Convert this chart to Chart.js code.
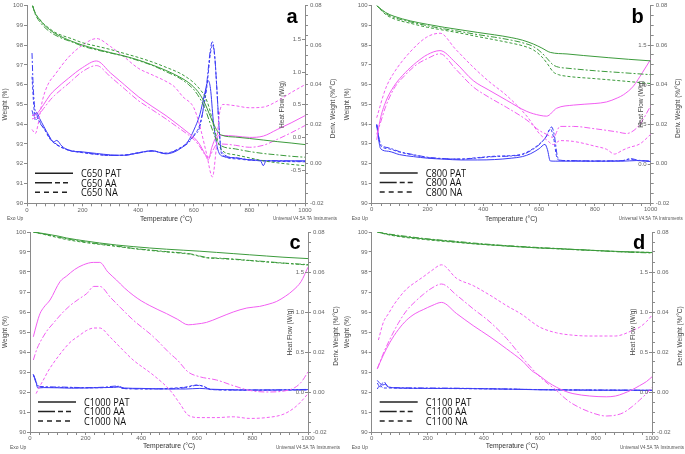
<!DOCTYPE html>
<html>
<head>
<meta charset="utf-8">
<script src="https://cdn.jsdelivr.net/npm/chart.js@4.4.1/dist/chart.umd.min.js"></script>
<style>
html, body { margin: 0; padding: 0; background: #fff; }
#wrap { position: relative; width: 685px; height: 454px; overflow: hidden; }
canvas { position: absolute; }
</style>
</head>
<body>
<div id="wrap">
  <canvas id="chA" width="342" height="225" style="left:0px;top:0px"></canvas>
  <canvas id="chB" width="343" height="225" style="left:342px;top:0px"></canvas>
  <canvas id="chC" width="342" height="229" style="left:0px;top:225px"></canvas>
  <canvas id="chD" width="343" height="229" style="left:342px;top:225px"></canvas>
</div>
<script>
// ---- data: [temperature °C, value] ----
const samples = ['PAT', 'AA', 'NA'];
const panelNames = ['C650', 'C800', 'C1000', 'C1100'];
const panelLetters = ['a', 'b', 'c', 'd'];
const heatFlowMin = [-1, -0.5, -0.5, -0.5];
const heatFlowLabels = [[-0.5, 0, 0.5, 1.0, 1.5], [0, 0.5, 1.0, 1.5], [0, 0.5, 1.0, 1.5], [0, 0.5, 1.0, 1.5]];

// C650 weight (%)
const aWtPAT = [[20,100],[30,99.6],[45,99.3],[60,99.05],[80,98.8],[100,98.6],[130,98.38],[160,98.2],[200,98.0],[250,97.8],[300,97.62],[350,97.45],[400,97.25],[450,97.0],[500,96.72],[550,96.38],[580,96.12],[600,95.88],[620,95.55],[640,95.05],[655,94.55],[670,94.05],[685,93.65],[700,93.45],[750,93.35],[800,93.28],[850,93.2],[900,93.12],[950,93.05],[1000,92.97]];
const aWtAA = [[20,100],[30,99.55],[45,99.2],[60,98.95],[80,98.7],[100,98.52],[130,98.32],[160,98.17],[200,97.95],[250,97.76],[300,97.6],[350,97.44],[400,97.22],[450,96.98],[500,96.66],[550,96.32],[580,96.02],[600,95.75],[620,95.35],[640,94.8],[655,94.2],[670,93.6],[685,93.1],[700,92.9],[750,92.75],[800,92.62],[850,92.52],[900,92.45],[950,92.38],[1000,92.33]];
const aWtNA = [[20,100],[30,99.62],[45,99.32],[60,99.08],[80,98.85],[100,98.65],[130,98.47],[160,98.33],[200,98.12],[250,97.95],[300,97.78],[350,97.58],[400,97.38],[450,97.15],[500,96.88],[550,96.58],[580,96.32],[600,96.1],[620,95.8],[640,95.4],[655,94.85],[670,94.0],[685,93.2],[700,92.7],[750,92.45],[800,92.3],[850,92.15],[900,92.05],[950,91.97],[1000,91.9]];
// C650 heat flow (W/g)
const aHfPAT = [[18,0.33],[35,0.36],[60,0.5],[84,0.65],[100,0.72],[150,0.9],[200,1.06],[250,1.16],[300,0.98],[350,0.8],[400,0.62],[450,0.47],[500,0.33],[550,0.17],[580,0.07],[600,0.0],[620,-0.1],[640,-0.25],[652,-0.34],[665,-0.15],[680,0.0],[700,0.03],[750,0.02],[800,0.0],[850,0.02],[900,0.12],[950,0.22],[1000,0.33]];
const aHfAA = [[18,0.28],[35,0.31],[60,0.44],[84,0.57],[100,0.64],[150,0.82],[200,1.0],[250,1.09],[300,0.92],[350,0.74],[400,0.56],[450,0.42],[500,0.28],[550,0.13],[580,0.04],[600,-0.03],[620,-0.13],[640,-0.26],[655,-0.3],[668,-0.2],[685,-0.1],[700,-0.1],[750,-0.12],[800,-0.15],[850,-0.12],[900,-0.03],[950,0.07],[1000,0.18]];
const aHfNA = [[18,0.12],[30,0.06],[40,0.2],[55,0.55],[75,0.8],[100,0.95],[150,1.22],[200,1.4],[250,1.5],[300,1.38],[350,1.22],[400,1.05],[450,0.95],[500,0.85],[530,0.77],[560,0.62],[600,0.45],[620,0.2],[646,-0.25],[667,-0.6],[680,-0.2],[692,0.35],[705,0.5],[750,0.48],[800,0.45],[850,0.46],[900,0.55],[950,0.68],[1000,0.8]];
// C650 deriv. weight (%/°C)
const aDwPAT = [[18,0.027],[25,0.024],[35,0.026],[45,0.023],[60,0.019],[80,0.014],[95,0.011],[107,0.0118],[125,0.009],[150,0.0068],[200,0.006],[250,0.0052],[300,0.0045],[350,0.0043],[400,0.0055],[450,0.0066],[500,0.005],[550,0.0075],[580,0.0115],[600,0.017],[622,0.025],[640,0.036],[652,0.042],[660,0.038],[670,0.022],[685,0.008],[700,0.004],[750,0.003],[800,0.002],[840,0.0015],[850,-0.001],[860,0.0015],[900,0.0015],[950,0.0015],[1000,0.0015]];
const aDwAA = [[18,0.056],[22,0.04],[28,0.028],[35,0.025],[45,0.021],[60,0.018],[80,0.0135],[100,0.0105],[150,0.007],[200,0.0058],[250,0.0048],[300,0.0042],[350,0.0043],[400,0.0054],[450,0.0064],[500,0.0052],[550,0.0078],[580,0.0105],[600,0.014],[622,0.019],[646,0.04],[660,0.058],[667,0.0617],[675,0.055],[682,0.04],[692,0.016],[700,0.006],[750,0.003],[800,0.002],[900,0.0015],[1000,0.0012]];
const aDwNA = [[18,0.044],[24,0.03],[30,0.022],[40,0.023],[50,0.02],[65,0.017],[80,0.013],[100,0.0102],[150,0.0068],[200,0.0056],[250,0.0047],[300,0.0042],[350,0.0044],[400,0.0056],[450,0.0065],[500,0.0054],[550,0.008],[580,0.011],[600,0.0145],[622,0.02],[646,0.038],[660,0.056],[668,0.06],[676,0.053],[683,0.038],[693,0.014],[700,0.005],[750,0.0025],[800,0.0018],[900,0.0012],[1000,0.001]];

// C800
const bWtPAT = [[18,100],[50,99.65],[80,99.46],[140,99.22],[200,99.05],[260,98.9],[320,98.77],[380,98.64],[440,98.52],[500,98.38],[540,98.25],[580,98.05],[610,97.85],[640,97.63],[700,97.55],[760,97.47],[850,97.36],[920,97.28],[1000,97.2]];
const bWtAA = [[18,100],[50,99.6],[80,99.4],[140,99.17],[200,98.98],[260,98.82],[320,98.68],[380,98.53],[440,98.4],[500,98.25],[540,98.12],[580,97.92],[610,97.6],[630,97.3],[650,97.0],[670,96.88],[700,96.83],[800,96.7],[900,96.6],[1000,96.5]];
const bWtNA = [[18,100],[50,99.55],[80,99.33],[140,99.1],[200,98.9],[260,98.75],[320,98.6],[380,98.43],[440,98.27],[500,98.1],[540,97.97],[580,97.75],[610,97.4],[630,97.05],[650,96.65],[670,96.5],[700,96.42],[800,96.3],[900,96.18],[1000,96.05]];
const bHfPAT = [[18,0.3],[30,0.55],[50,0.78],[80,0.98],[120,1.15],[160,1.28],[200,1.38],[245,1.43],[300,1.28],[364,1.05],[420,0.93],[484,0.8],[556,0.66],[603,0.61],[627,0.6],[663,0.7],[723,0.74],[800,0.76],[842,0.78],[880,0.83],[902,0.87],[938,0.98],[970,1.15],[1000,1.32]];
const bHfAA = [[18,0.37],[30,0.5],[50,0.72],[80,0.95],[120,1.12],[160,1.25],[200,1.33],[245,1.39],[300,1.2],[364,0.97],[420,0.84],[484,0.71],[556,0.55],[600,0.42],[627,0.37],[651,0.33],[675,0.47],[723,0.47],[800,0.44],[842,0.42],[880,0.4],[914,0.38],[940,0.42],[962,0.5],[1000,0.73]];
const bHfNA = [[18,0.58],[50,0.95],[78,1.14],[137,1.41],[197,1.6],[245,1.65],[300,1.45],[364,1.22],[420,1.04],[484,0.86],[556,0.6],[603,0.37],[627,0.3],[651,0.24],[675,0.29],[723,0.28],[800,0.22],[842,0.18],[870,0.12],[900,0.17],[920,0.2],[962,0.25],[1000,0.37]];
const bDwPAT = [[18,0.0197],[25,0.012],[32,0.0075],[60,0.0062],[100,0.0045],[150,0.0035],[200,0.0027],[260,0.0022],[320,0.0018],[380,0.0018],[440,0.002],[500,0.0027],[540,0.0035],[570,0.005],[600,0.0075],[621,0.0097],[630,0.007],[640,0.0013],[660,0.0012],[700,0.0012],[800,0.0012],[900,0.0012],[950,0.0015],[1000,0.001]];
const bDwAA = [[18,0.0197],[25,0.014],[32,0.0098],[60,0.008],[100,0.006],[150,0.0045],[200,0.0032],[260,0.0025],[320,0.0022],[380,0.0028],[440,0.0035],[500,0.0038],[540,0.0045],[570,0.0065],[600,0.0095],[625,0.0135],[645,0.0185],[655,0.014],[665,0.004],[675,0.0017],[700,0.0015],[800,0.0013],[900,0.0015],[930,0.0025],[950,0.0018],[1000,0.0012]];
const bDwNA = [[18,0.0197],[25,0.013],[32,0.009],[60,0.0075],[100,0.0058],[150,0.0043],[200,0.003],[260,0.0024],[320,0.0023],[380,0.003],[440,0.0037],[500,0.004],[540,0.0048],[570,0.0068],[600,0.0098],[625,0.0135],[640,0.0175],[652,0.013],[662,0.004],[672,0.0016],[700,0.0014],[800,0.0012],[900,0.0014],[920,0.0022],[950,0.0016],[1000,0.0011]];

// C1000
const cWtPAT = [[12,100],[50,99.92],[100,99.8],[132,99.7],[200,99.55],[251,99.45],[311,99.35],[371,99.27],[431,99.2],[491,99.14],[551,99.09],[611,99.04],[671,98.98],[731,98.92],[790,98.86],[850,98.8],[910,98.74],[1000,98.67]];
const cWtAA = [[12,100],[50,99.9],[100,99.75],[132,99.66],[200,99.5],[251,99.4],[311,99.3],[371,99.18],[431,99.1],[491,99.02],[551,98.95],[580,98.9],[611,98.8],[640,98.72],[671,98.7],[731,98.65],[790,98.58],[850,98.52],[910,98.45],[1000,98.37]];
const cWtNA = [[12,100],[50,99.88],[100,99.72],[132,99.62],[200,99.47],[251,99.38],[311,99.28],[371,99.17],[431,99.08],[491,99.0],[551,98.93],[580,98.88],[611,98.78],[640,98.7],[671,98.68],[731,98.63],[790,98.57],[850,98.5],[910,98.44],[1000,98.35]];
const cHfPAT = [[12,0.69],[24,0.85],[36,0.98],[50,1.06],[72,1.15],[108,1.38],[132,1.45],[160,1.53],[192,1.59],[228,1.62],[251,1.62],[280,1.5],[311,1.4],[340,1.3],[371,1.21],[400,1.14],[431,1.08],[460,1.03],[491,0.98],[530,0.91],[569,0.84],[600,0.85],[635,0.87],[680,0.93],[731,1.0],[780,1.05],[826,1.07],[860,1.1],[886,1.13],[920,1.2],[946,1.27],[975,1.38],[1000,1.56]];
const cHfAA = [[12,0.4],[24,0.53],[36,0.62],[60,0.76],[84,0.86],[114,0.98],[144,1.08],[175,1.16],[204,1.23],[230,1.32],[251,1.32],[290,1.18],[324,1.06],[371,0.9],[444,0.69],[504,0.48],[530,0.4],[569,0.25],[611,0.19],[671,0.15],[731,0.08],[790,0.02],[850,0.0],[910,0.01],[950,0.05],[975,0.12],[1000,0.25]];
const cHfNA = [[22,-0.02],[35,0.07],[48,0.15],[65,0.26],[84,0.36],[114,0.5],[144,0.62],[175,0.7],[204,0.77],[230,0.8],[251,0.8],[290,0.68],[324,0.56],[371,0.4],[444,0.21],[504,0.02],[540,-0.15],[569,-0.29],[611,-0.32],[671,-0.32],[731,-0.31],[790,-0.33],[850,-0.32],[910,-0.28],[950,-0.2],[975,-0.12],[1000,-0.02]];
const cDwPAT = [[12,0.0087],[20,0.006],[28,0.002],[50,0.0022],[100,0.0021],[150,0.0019],[200,0.002],[263,0.0022],[300,0.0023],[320,0.0025],[340,0.002],[400,0.0018],[500,0.0015],[560,0.0015],[611,0.0018],[650,0.0014],[700,0.0012],[800,0.001],[900,0.001],[1000,0.0012]];
const cDwAA = [[12,0.0087],[25,0.004],[35,0.0028],[100,0.0025],[200,0.0022],[263,0.0024],[315,0.003],[330,0.0018],[400,0.0016],[500,0.0016],[560,0.0022],[600,0.0033],[620,0.003],[650,0.0013],[700,0.0011],[800,0.001],[900,0.0011],[1000,0.0013]];
const cDwNA = [[12,0.0087],[25,0.0035],[35,0.0025],[100,0.0023],[200,0.0021],[300,0.0024],[320,0.0028],[340,0.0017],[450,0.0015],[500,0.0018],[560,0.0025],[600,0.0035],[625,0.0028],[650,0.0012],[800,0.0009],[1000,0.001]];

// C1100
const dWtPAT = [[20,100],[60,99.88],[125,99.75],[184,99.66],[243,99.58],[303,99.5],[362,99.42],[422,99.36],[481,99.3],[540,99.25],[600,99.2],[659,99.17],[718,99.13],[778,99.09],[837,99.05],[897,99.02],[1000,98.97]];
const dWtAA = [[20,100],[60,99.9],[125,99.78],[184,99.68],[243,99.6],[303,99.53],[362,99.45],[422,99.38],[481,99.32],[540,99.27],[600,99.22],[659,99.18],[718,99.13],[778,99.09],[837,99.04],[897,99.0],[1000,98.95]];
const dWtNA = [[20,100],[60,99.86],[125,99.72],[184,99.63],[243,99.55],[303,99.48],[362,99.41],[422,99.35],[481,99.3],[540,99.25],[600,99.2],[659,99.16],[718,99.12],[778,99.08],[837,99.05],[897,99.01],[1000,98.98]];
const dHfPAT = [[20,0.29],[40,0.45],[65,0.62],[95,0.78],[125,0.9],[155,0.98],[184,1.03],[215,1.08],[249,1.12],[303,0.98],[362,0.83],[422,0.69],[481,0.54],[540,0.38],[570,0.27],[600,0.2],[630,0.12],[659,0.06],[690,0.01],[718,-0.02],[778,-0.05],[837,-0.06],[870,-0.05],[897,-0.02],[930,0.03],[956,0.08],[980,0.13],[1000,0.19]];
const dHfAA = [[20,0.29],[40,0.47],[65,0.66],[95,0.86],[125,1.02],[155,1.13],[184,1.22],[215,1.3],[249,1.35],[303,1.21],[362,1.04],[422,0.875],[481,0.67],[540,0.42],[570,0.3],[600,0.19],[630,0.1],[659,0.02],[690,-0.08],[718,-0.15],[778,-0.25],[837,-0.3],[870,-0.29],[897,-0.26],[930,-0.18],[956,-0.1],[980,-0.02],[1000,0.06]];
const dHfNA = [[24,0.65],[42,0.875],[60,0.98],[77,1.08],[100,1.19],[125,1.29],[155,1.37],[184,1.44],[215,1.52],[249,1.59],[303,1.42],[362,1.33],[422,1.21],[481,1.08],[540,0.96],[570,0.88],[600,0.81],[659,0.74],[718,0.71],[778,0.7],[837,0.7],[870,0.7],[897,0.72],[930,0.77],[956,0.81],[980,0.88],[1000,0.96]];
const dDwPAT = [[20,0.0058],[30,0.0042],[40,0.0035],[50,0.004],[60,0.0025],[100,0.002],[200,0.0018],[300,0.0018],[400,0.0016],[500,0.0014],[600,0.0011],[700,0.001],[800,0.0009],[900,0.0009],[1000,0.0008]];
const dDwAA = [[20,0.0045],[30,0.0025],[40,0.0048],[45,0.005],[55,0.0028],[80,0.0022],[200,0.002],[400,0.0017],[600,0.0012],[800,0.001],[1000,0.0009]];
const dDwNA = [[20,0.0015],[30,0.0035],[40,0.002],[60,0.002],[100,0.0019],[300,0.0017],[500,0.0014],[700,0.001],[1000,0.0008]];

const weightSets = [[aWtPAT, aWtAA, aWtNA], [bWtPAT, bWtAA, bWtNA], [cWtPAT, cWtAA, cWtNA], [dWtPAT, dWtAA, dWtNA]];
const heatSets = [[aHfPAT, aHfAA, aHfNA], [bHfPAT, bHfAA, bHfNA], [cHfPAT, cHfAA, cHfNA], [dHfPAT, dHfAA, dHfNA]];
const derivSets = [[aDwPAT, aDwAA, aDwNA], [bDwPAT, bDwAA, bDwNA], [cDwPAT, cDwAA, cDwNA], [dDwPAT, dDwAA, dDwNA]];

// ---- styling / layout ----
const GREEN = '#3c9b3c', PINK = '#f25ef2', BLUE = '#3c3cf6';
const AXIS = '#8a8a8a', LABEL = '#666';
const DASH = { PAT: [], AA: [6, 2, 2, 2], NA: [3, 2] };
const FONT = '"Liberation Sans", Arial, sans-serif';

// canvas id, plot left, plot right, top padding, x-axis height, hf title offset
const layouts = [
  { id: 'chA', left: 27, right: 305, top: 3, xh: 21.7, hfOff: 23, titlePad: 2 },
  { id: 'chB', left: 29.7, right: 308.7, top: 3, xh: 22, hfOff: 9, titlePad: 2 },
  { id: 'chC', left: 30, right: 308, top: 7, xh: 22, hfOff: 18, titlePad: 3.5 },
  { id: 'chD', left: 29.7, right: 310, top: 7, xh: 22, hfOff: 19, titlePad: 3.5 }
];

function pts(arr) { return arr.map(p => ({ x: p[0], y: p[1] })); }

function isMultiple(v, step) {
  const r = v / step;
  return Math.abs(r - Math.round(r)) < 1e-6;
}

function buildPanel(i) {
  const lay = layouts[i];
  const canvas = document.getElementById(lay.id);
  const W = canvas.width, H = canvas.height;
  const datasets = [];
  samples.forEach((s, k) => datasets.push({ data: pts(weightSets[i][k]), yAxisID: 'y', borderColor: GREEN, borderDash: DASH[s] }));
  samples.forEach((s, k) => datasets.push({ data: pts(heatSets[i][k]), yAxisID: 'hf', borderColor: PINK, borderDash: DASH[s] }));
  samples.forEach((s, k) => datasets.push({ data: pts(derivSets[i][k]), yAxisID: 'dw', borderColor: BLUE, borderDash: DASH[s] }));
  datasets.forEach(d => {
    d.borderWidth = 1;
    d.pointRadius = 0;
    d.fill = false;
    d.cubicInterpolationMode = 'monotone';
  });

  const extras = {
    id: 'extras' + i,
    afterDraw(chart) {
      const ctx = chart.ctx, ca = chart.chartArea, hf = chart.scales.hf;
      const midY = (ca.top + ca.bottom) / 2;
      ctx.save();
      // heat flow axis (inner side of right axis)
      ctx.strokeStyle = AXIS; ctx.lineWidth = 1;
      ctx.fillStyle = LABEL;
      ctx.font = '6px ' + FONT;
      ctx.textAlign = 'right'; ctx.textBaseline = 'middle';
      heatFlowLabels[i].forEach(v => {
        const y = Math.round(hf.getPixelForValue(v)) + 0.5;
        ctx.beginPath(); ctx.moveTo(ca.right - 3, y); ctx.lineTo(ca.right, y); ctx.stroke();
        ctx.fillText(v.toFixed(1), ca.right - 4, y);
      });
      // rotated titles
      ctx.fillStyle = '#444';
      ctx.font = '6.5px ' + FONT;
      ctx.textAlign = 'center';
      ctx.save(); ctx.translate(ca.right - lay.hfOff, midY); ctx.rotate(-Math.PI / 2);
      ctx.fillText('Heat Flow (W/g)', 0, 0); ctx.restore();
      ctx.save(); ctx.translate(ca.right + 28, midY + 4); ctx.rotate(-Math.PI / 2);
      ctx.fillText('Deriv. Weight (%/°C)', 0, 0); ctx.restore();
      // footer texts
      ctx.fillStyle = '#555';
      ctx.font = '5px ' + FONT;
      ctx.textAlign = 'left'; ctx.textBaseline = 'middle';
      ctx.fillText('Exo Up', ca.left - 20, ca.bottom + 15.5);
      ctx.textAlign = 'center';
      ctx.font = '4.6px ' + FONT;
      ctx.fillText('Universal V4.5A TA Instruments', ca.right, ca.bottom + 15.5, 64);
      // panel letter
      ctx.fillStyle = '#000';
      ctx.font = 'bold 20px ' + FONT;
      ctx.textAlign = 'center'; ctx.textBaseline = 'alphabetic';
      ctx.fillText(panelLetters[i], ca.right - 13, ca.top + 17);
      // legend
      const rows = [ca.bottom - 30, ca.bottom - 20.5, ca.bottom - 11];
      const x0 = ca.left + 8;
      ctx.strokeStyle = '#222'; ctx.lineWidth = 1.4;
      ctx.font = '11.5px "Open Sans", ' + FONT;
      ctx.textAlign = 'left'; ctx.textBaseline = 'middle';
      samples.forEach((s, k) => {
        const y = rows[k];
        ctx.beginPath();
        if (s === 'PAT') { ctx.moveTo(x0, y); ctx.lineTo(x0 + 38, y); }
        else if (s === 'AA') {
          ctx.moveTo(x0, y); ctx.lineTo(x0 + 17, y);
          ctx.moveTo(x0 + 20, y); ctx.lineTo(x0 + 25, y);
          ctx.moveTo(x0 + 28, y); ctx.lineTo(x0 + 33, y);
        } else {
          [0, 9, 18, 27].forEach(o => { ctx.moveTo(x0 + o, y); ctx.lineTo(x0 + o + 5, y); });
        }
        ctx.stroke();
        ctx.fillStyle = '#111';
        const txt = panelNames[i] + ' ' + s;
        ctx.fillText(txt, ca.left + 54, y + 0.5, ctx.measureText(txt).width * 0.8);
      });
      ctx.restore();
    }
  };

  new Chart(canvas, {
    type: 'line',
    data: { datasets },
    options: {
      responsive: false,
      animation: false,
      devicePixelRatio: 1,
      layout: { padding: { top: lay.top, left: 0, right: 0, bottom: 0 } },
      plugins: { legend: { display: false }, tooltip: { enabled: false } },
      events: [],
      scales: {
        x: {
          type: 'linear', position: 'bottom', min: 0, max: 1000,
          afterBuildTicks: sc => { sc.ticks = Array.from({ length: 31 }, (_, j) => ({ value: j * 200 / 6 })); },
          afterFit: sc => { sc.height = lay.xh; },
          ticks: {
            autoSkip: false, maxRotation: 0, padding: 0, color: LABEL,
            font: { size: 6, family: FONT },
            callback: v => isMultiple(v, 200) ? String(Math.round(v)) : ''
          },
          grid: { drawOnChartArea: false, drawTicks: true, tickLength: 3, color: AXIS },
          border: { display: true, color: AXIS },
          title: { display: true, text: 'Temperature (°C)', color: '#333', font: { size: 6.8, family: FONT }, padding: { top: 0, bottom: lay.titlePad } }
        },
        y: {
          type: 'linear', position: 'left', min: 90, max: 100,
          afterBuildTicks: sc => { sc.ticks = Array.from({ length: 11 }, (_, j) => ({ value: 90 + j })); },
          afterFit: sc => { sc.width = lay.left; },
          ticks: { autoSkip: false, padding: 1, color: LABEL, font: { size: 6, family: FONT } },
          grid: { drawOnChartArea: false, drawTicks: true, tickLength: 3, color: AXIS },
          border: { display: true, color: AXIS },
          title: { display: true, text: 'Weight (%)', color: '#444', font: { size: 6.5, family: FONT }, padding: { top: 1, bottom: 0 } }
        },
        hf: {
          type: 'linear', position: 'right', min: heatFlowMin[i], max: 2, display: false
        },
        dw: {
          type: 'linear', position: 'right', min: -0.02, max: 0.08,
          afterBuildTicks: sc => { sc.ticks = Array.from({ length: 21 }, (_, j) => ({ value: Math.round((-0.02 + j * 0.005) * 1000) / 1000 })); },
          afterFit: sc => { sc.width = W - lay.right; },
          ticks: {
            autoSkip: false, padding: 2, color: LABEL, font: { size: 6, family: FONT },
            callback: v => isMultiple(v, 0.02) ? v.toFixed(2) : ''
          },
          grid: { drawOnChartArea: false, drawTicks: true, tickLength: 3, color: AXIS },
          border: { display: true, color: AXIS }
        }
      }
    },
    plugins: [extras]
  });
}

document.addEventListener('DOMContentLoaded', function () {
  for (let i = 0; i < 4; i++) buildPanel(i);
});
</script>
</body>
</html>
